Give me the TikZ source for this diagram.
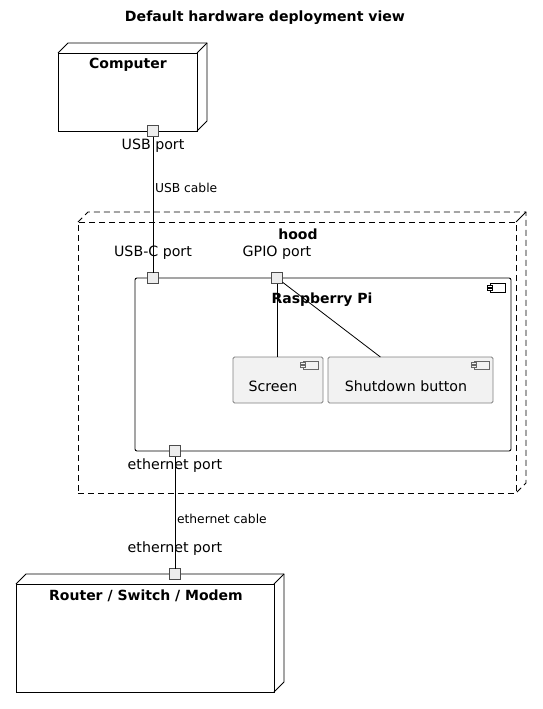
\documentclass[tikz,border=0pt]{standalone}
\usepackage{fontspec}
\setmainfont{DejaVu Sans}
\begin{document}
\begin{tikzpicture}[x=1pt,y=-1pt,
  every node/.style={inner sep=0pt, outer sep=0pt},
  port/.style={draw=black!70, fill=black!7, line width=1.5pt, minimum width=11pt, minimum height=11pt},
  comp/.style={draw=black!50, fill=black!5, line width=0.8pt, rounded corners=1.5pt},
  conn/.style={draw=black, line width=0.8pt},
  lbl/.style={font=\fontsize{14.2}{16}\selectfont},
  blbl/.style={font=\fontsize{14}{16}\selectfont\bfseries},
  clbl/.style={font=\fontsize{12.3}{14}\selectfont, anchor=west}
]
\useasboundingbox (0,0) rectangle (542,709);

% title
\node[font=\fontsize{14.1}{16}\selectfont\bfseries] (title) at (265,18) {Default hardware deployment view};

% Computer node
\node[draw, fill=white, line width=0.8pt, minimum width=139pt, minimum height=78pt] (computer) at (127.5,92) {};
\draw[line width=0.8pt] (computer.north west) -- ++(10,-10) -- ++(139,0) -- ++(0,78) -- (computer.south east);
\draw[line width=0.8pt] (computer.north east) -- ++(10,-10);
\node[blbl] (computerlbl) at (128,65) {Computer};

% hood node (dashed)
\node[draw, dash pattern=on 6pt off 4pt, line width=0.8pt, minimum width=438pt, minimum height=271pt] (hood) at (297,357.5) {};
\draw[dash pattern=on 6pt off 4pt, line width=0.8pt] (hood.north west) -- ++(10,-10) -- ++(438,0) -- ++(0,271) -- (hood.south east);
\draw[line width=0.8pt] (hood.north east) -- ++(10,-10);
\node[blbl] (hoodlbl) at (298,234) {hood};

% Router node
\node[draw, fill=white, line width=0.8pt, minimum width=258pt, minimum height=108pt] (router) at (145,638) {};
\draw[line width=0.8pt] (router.north west) -- ++(10,-10) -- ++(258,0) -- ++(0,108) -- (router.south east);
\draw[line width=0.8pt] (router.north east) -- ++(10,-10);
\node[blbl] (routerlbl) at (146,596) {Router / Switch / Modem};

% Raspberry Pi component
\node[draw, fill=white, line width=0.9pt, rounded corners=2pt, minimum width=376pt, minimum height=173pt] (rpi) at (323,364.5) {};
\node[blbl] (rpilbl) at (322,300) {Raspberry Pi};
\draw[line width=0.7pt] (490,283) rectangle (505,292);
\draw[line width=0.7pt, fill=white] (487.5,285) rectangle (492.5,287);
\draw[line width=0.7pt, fill=white] (487.5,288.5) rectangle (492.5,290.5);

% Screen component
\node[comp, minimum width=90pt, minimum height=46pt] (screen) at (278,380) {};
\node[lbl] (screenlbl) at (273,386) {Screen};
\draw[line width=0.6pt, draw=black!60] (303,361) rectangle (318,369);
\draw[line width=0.6pt, draw=black!60, fill=black!5] (300.5,362.5) rectangle (305.5,364.5);
\draw[line width=0.6pt, draw=black!60, fill=black!5] (300.5,365.5) rectangle (305.5,367.5);

% Shutdown button component
\node[comp, minimum width=165pt, minimum height=46pt] (shutdown) at (410.5,380) {};
\node[lbl] (shutdownlbl) at (406,386) {Shutdown button};
\draw[line width=0.6pt, draw=black!60] (474,361) rectangle (489,369);
\draw[line width=0.6pt, draw=black!60, fill=black!5] (471.5,362.5) rectangle (476.5,364.5);
\draw[line width=0.6pt, draw=black!60, fill=black!5] (471.5,365.5) rectangle (476.5,367.5);

% ports
\node[port] (usb) at (153,131) {};
\node[lbl] (usblbl) at (153,146) {USB port};
\node[port] (usbc) at (153,278) {};
\node[lbl] (usbclbl) at (153,253) {USB-C port};
\node[port] (gpio) at (277,278) {};
\node[lbl] (gpiolbl) at (277,253) {GPIO port};
\node[port] (eth1) at (175,451) {};
\node[lbl] (eth1lbl) at (175,466) {ethernet port};
\node[port] (eth2) at (175,574) {};
\node[lbl] (eth2lbl) at (175,549) {ethernet port};

% connectors
\draw[conn] (usb) -- (usbc);
\node[clbl] (usbcable) at (155,188) {USB cable};
\draw[conn] (eth1) -- (eth2);
\node[clbl] (ethcable) at (177,519) {ethernet cable};
\draw[conn] (gpio) -- (gpio |- screen.north);
\draw[conn] (gpio) -- (shutdown);
\end{tikzpicture}
\end{document}
